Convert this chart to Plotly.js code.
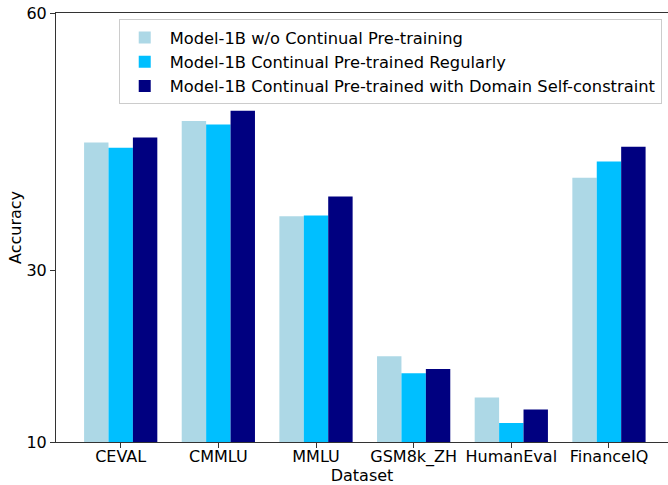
<!DOCTYPE html>
<html>
<head>
<meta charset="utf-8">
<script src="https://cdn.plot.ly/plotly-3.0.1.min.js"></script>
<style>html,body{margin:0;padding:0;overflow:hidden;background:#fff}</style>
</head>
<body>
<div id="chart" style="width:668px;height:485px"></div>
<script>
const categories = ["CEVAL", "CMMLU", "MMLU", "GSM8k_ZH", "HumanEval", "FinanceIQ"];
const seriesNames = [
  "Model-1B w/o Continual Pre-training",
  "Model-1B Continual Pre-trained Regularly",
  "Model-1B Continual Pre-trained with Domain Self-constraint"
];
const woContinual = [44.9, 47.4, 36.3, 20.0, 15.2, 40.8];
const regular = [44.3, 47.0, 36.4, 18.0, 12.2, 42.7];
const selfConstraint = [45.5, 48.6, 38.6, 18.5, 13.8, 44.4];
const colors = ["#add8e6", "#00bfff", "#000080"];
const yTicks = [10, 30, 60];

const xTickVals = categories.map((c, k) => k);
const allSeries = [woContinual, regular, selfConstraint];
const traces = allSeries.map((vals, i) => ({
  type: "bar",
  name: seriesNames[i],
  x: xTickVals,
  y: vals,
  marker: {color: colors[i], line: {width: 0}},
  hoverinfo: "y"
}));
// invisible helper trace so the tick-mark axis (x2) is drawn
traces.push({
  type: "scatter", mode: "markers", xaxis: "x2", yaxis: "y",
  x: xTickVals, y: woContinual, marker: {opacity: 0, size: 1},
  showlegend: false, hoverinfo: "skip"
});

const font = {family: "DejaVu Sans, sans-serif", size: 16, color: "#000"};
const xRange = [-0.6625, 5.6045];
const layout = {
  width: 668, height: 485,
  margin: {l: 56.3, r: 0, t: 13, b: 43.3, pad: 0},
  paper_bgcolor: "#fff", plot_bgcolor: "#fff",
  font: font,
  barmode: "group",
  bargap: 0.25,
  bargroupgap: 0,
  showlegend: true,
  legend: {
    x: 0.1025, y: 0.985, xanchor: "left", yanchor: "top",
    bgcolor: "#fff", bordercolor: "#cccccc", borderwidth: 1,
    font: {family: "DejaVu Sans, sans-serif", size: 16.3, color: "#000"},
    itemwidth: 40,
    tracegroupgap: 0
  },
  xaxis: {
    range: xRange,
    tickmode: "array",
    tickvals: xTickVals,
    ticktext: categories,
    showgrid: false, zeroline: false,
    showline: true, linecolor: "#333", linewidth: 1, mirror: true,
    ticks: "",
    tickfont: font,
    title: {text: "Dataset", font: font, standoff: 0}
  },
  xaxis2: {
    overlaying: "x",
    anchor: "y",
    range: xRange,
    side: "bottom",
    tickmode: "array",
    tickvals: xTickVals,
    showticklabels: false,
    showgrid: false, zeroline: false, showline: false,
    ticks: "outside", ticklen: 5, tickwidth: 1, tickcolor: "#333"
  },
  yaxis: {
    range: [10, 60],
    tickmode: "array",
    tickvals: yTicks,
    ticktext: yTicks.map(String),
    showgrid: false, zeroline: false,
    showline: true, linecolor: "#333", linewidth: 1, mirror: false,
    ticks: "outside", ticklen: 5, tickcolor: "#333",
    tickfont: font,
    title: {text: "Accuracy", font: font, standoff: 0}
  }
};

Plotly.newPlot("chart", traces, layout, {staticPlot: true, displayModeBar: false});
</script>
</body>
</html>
